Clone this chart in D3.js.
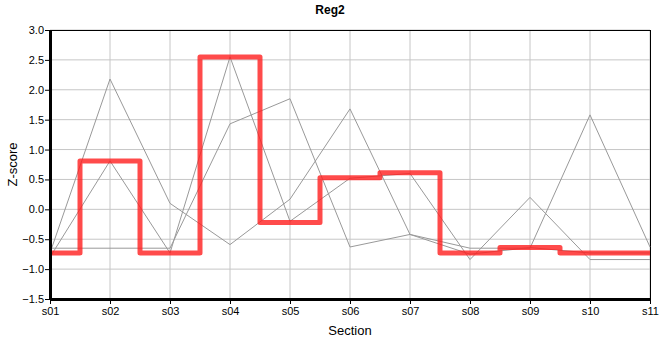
<!DOCTYPE html>
<html>
<head>
<meta charset="utf-8">
<script src="https://cdn.jsdelivr.net/npm/d3@7"></script>
<style>
  body { margin: 0; background: #fff; }
  text { font-family: "Liberation Sans", Arial, sans-serif; fill: #000; }
</style>
</head>
<body>
<svg id="chart" width="660" height="360"></svg>
<script>
'use strict'

// sections on the x axis
const sections = ["s01","s02","s03","s04","s05","s06","s07","s08","s09","s10","s11"];

// thin grey series
const seriesA = [-0.73, 2.18, 0.10, -0.59, 0.17, 1.68, -0.42, -0.65, -0.65, 1.58, -0.63];
const seriesB = [-0.80, 0.81, -0.73, 2.55, -0.20, 0.52, 0.60, -0.84, 0.20, -0.84, -0.84];
const seriesC = [-0.65, -0.65, -0.65, 1.43, 1.85, -0.63, -0.42, -0.75, -0.64, -0.73, -0.73];

// the highlighted step series
const reg2 = [-0.73, 0.81, -0.73, 2.55, -0.22, 0.53, 0.61, -0.73, -0.64, -0.73, -0.73];

const yTicks = [-1.5, -1.0, -0.5, 0.0, 0.5, 1.0, 1.5, 2.0, 2.5, 3.0];

// plot box
let margin = {top: 30, right: 10, bottom: 61, left: 50};
let svg = d3.select("#chart"),
    width = 660 - margin.left - margin.right,
    height = 360 - margin.top - margin.bottom,
    x = d3.scalePoint().domain(sections).range([0, width]),
    y = d3.scaleLinear().domain([-1.5, 3.0]).range([height, 0]),
    g = svg.append("g").attr("transform", `translate(${margin.left},${margin.top})`);

// grid lines
g.append("g")
  .selectAll("line")
  .data(yTicks)
  .enter().append("line")
    .attr("x1", 0).attr("x2", width)
    .attr("y1", d => y(d)).attr("y2", d => y(d))
    .attr("stroke", "#c6c6c6").attr("stroke-width", 1);

g.append("g")
  .selectAll("line")
  .data(sections)
  .enter().append("line")
    .attr("x1", d => x(d)).attr("x2", d => x(d))
    .attr("y1", 0).attr("y2", height)
    .attr("stroke", "#c6c6c6").attr("stroke-width", 1);

// frame top and right
g.append("line").attr("x1", 0).attr("x2", width).attr("y1", 0.5).attr("y2", 0.5)
  .attr("stroke", "#000").attr("stroke-width", 1);
g.append("line").attr("x1", width + 0.5).attr("x2", width + 0.5).attr("y1", 0).attr("y2", height)
  .attr("stroke", "#000").attr("stroke-width", 1);

// grey lines
let line = d3.line()
  .x((d, i) => x(sections[i]))
  .y(d => y(d));

[seriesA, seriesB, seriesC].forEach(s => {
  g.append("path")
    .datum(s)
    .attr("fill", "none")
    .attr("stroke", "#999")
    .attr("stroke-width", 1)
    .attr("d", line);
});

// red step line
g.append("path")
  .datum(reg2)
  .attr("fill", "none")
  .attr("stroke", "rgba(255,30,30,0.8)")
  .attr("stroke-width", 5)
  .attr("stroke-linejoin", "round")
  .attr("d", line.curve(d3.curveStep));

// axes
let yAxis = g.append("g")
  .call(d3.axisLeft(y).tickValues(yTicks).tickFormat(d3.format(".1f")).tickSize(5).tickSizeOuter(0));
let xAxis = g.append("g")
  .attr("transform", `translate(0,${height})`)
  .call(d3.axisBottom(x).tickSize(5).tickSizeOuter(0));

[yAxis, xAxis].forEach(a => {
  a.select(".domain").attr("stroke", "#000").attr("stroke-width", 3);
  a.selectAll(".tick line").attr("stroke", "#000").attr("stroke-width", 1);
  a.selectAll(".tick text").attr("font-size", 11).attr("font-family", "Liberation Sans, Arial, sans-serif").attr("fill", "#000");
});
yAxis.selectAll(".tick text").attr("x", -6);
xAxis.selectAll(".tick text").attr("y", 8);

// titles
svg.append("text")
  .attr("x", 330).attr("y", 14)
  .attr("text-anchor", "middle")
  .attr("font-size", 12).attr("font-weight", "bold")
  .text("Reg2");

svg.append("text")
  .attr("x", margin.left + width / 2).attr("y", 335)
  .attr("text-anchor", "middle")
  .attr("font-size", 13)
  .text("Section");

svg.append("text")
  .attr("transform", `translate(17,${margin.top + height / 2}) rotate(-90)`)
  .attr("text-anchor", "middle")
  .attr("font-size", 13)
  .text("Z-score");
</script>
</body>
</html>
